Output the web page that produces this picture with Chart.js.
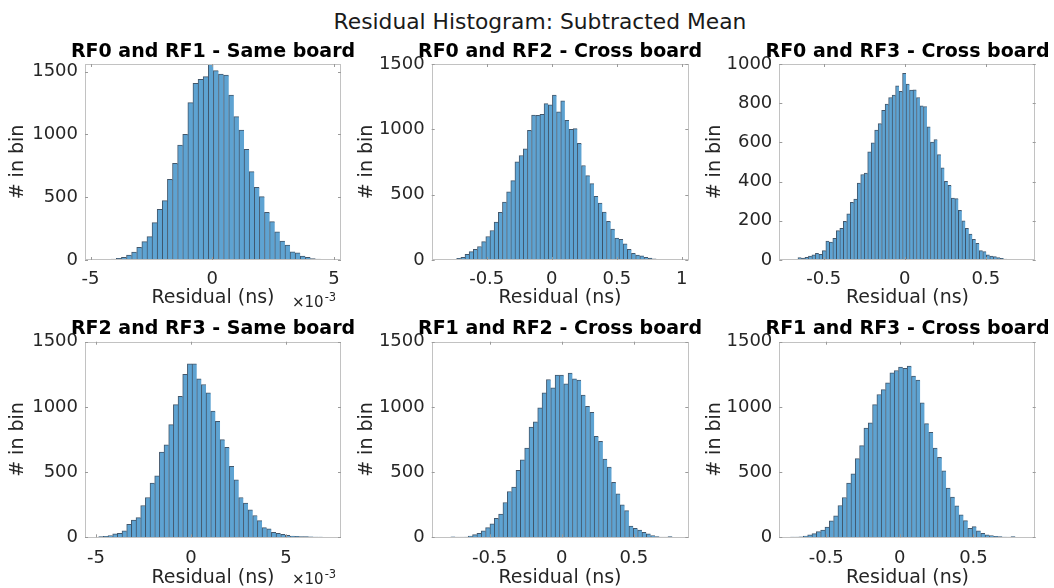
<!DOCTYPE html>
<html>
<head>
<meta charset="utf-8">
<title>Residual Histogram: Subtracted Mean</title>
<script src="https://cdn.jsdelivr.net/npm/chart.js@4.4.1/dist/chart.umd.min.js"></script>
<style>
    html, body { margin: 0; padding: 0; background: #fff; }
    #fig { position: relative; width: 1054px; height: 588px; overflow: hidden; background: #fff; }
    #suptitle {
        position: absolute; left: 0; width: 1080px; top: 10px;
        text-align: center; font: 21.8px "DejaVu Sans", sans-serif; line-height: 24px; color: #1a1a1a;
    }
    .panel { position: absolute; }
</style>
</head>
<body>
<div id="fig">
    <div id="suptitle">Residual Histogram: Subtracted Mean</div>
</div>
<script>
// ==========================================
// Residual histograms (6 pairs) — Chart.js
// ==========================================

// --- Dades ---
const titles = [
    'RF0 and RF1 - Same board', 'RF0 and RF2 - Cross board', 'RF0 and RF3 - Cross board',
    'RF2 and RF3 - Same board', 'RF1 and RF2 - Cross board', 'RF1 and RF3 - Cross board'
];

// left edge of the first bin and bin width (same-board plots in units of 1e-3 ns)
const binStart = [-4.574, -0.795, -0.702, -4.86, -0.7685, -0.744];
const binWidth = [0.21, 0.032, 0.0215, 0.2456, 0.0301, 0.0294];

const countsRF0RF1 = [5, 5, 8, 13, 21, 40, 64, 100, 146, 186, 297, 403, 472, 642, 769, 915, 1000, 1252, 1406, 1438,
    1459, 1560, 1507, 1480, 1472, 1313, 1141, 1034, 881, 703, 578, 504, 379, 305, 225, 151, 119, 66, 58, 32, 21, 11, 8];
const countsRF0RF2 = [5, 5, 13, 20, 44, 64, 82, 103, 141, 180, 226, 290, 364, 444, 521, 608, 751, 800, 851, 992,
    1110, 1108, 1115, 1197, 1187, 1262, 1133, 1218, 1069, 1000, 1005, 892, 723, 646, 585, 487, 436, 367, 295, 236,
    167, 159, 123, 82, 51, 38, 31, 20, 15, 8, 5];
const countsRF0RF3 = [2, 3, 12, 10, 14, 20, 26, 34, 29, 48, 96, 91, 111, 150, 162, 197, 236, 294, 311, 393,
    436, 444, 552, 598, 663, 696, 764, 795, 829, 841, 889, 860, 952, 897, 867, 868, 829, 786, 783, 680,
    602, 615, 538, 470, 402, 381, 316, 313, 253, 200, 162, 132, 106, 85, 48, 43, 26, 20, 17, 12, 9, 5, 3, 2];
const countsRF2RF3 = [5, 8, 13, 26, 31, 49, 100, 133, 151, 244, 305, 415, 472, 654, 710, 864, 1018, 1082, 1249, 1331,
    1331, 1215, 1172, 1108, 967, 890, 749, 690, 544, 441, 305, 262, 210, 167, 128, 74, 64, 38, 31, 23,
    15, 10, 8, 5, 5, 3, 2, 2];
const countsRF1RF2 = [3, 1, 1, 2, 10, 20, 31, 49, 74, 103, 146, 179, 267, 351, 385, 513, 595, 685, 846, 885,
    992, 1108, 1210, 1146, 1244, 1244, 1177, 1259, 1215, 1205, 1090, 1005, 959, 774, 736, 600, 538, 421, 333, 249,
    205, 87, 69, 56, 38, 26, 13, 5, 1, 1, 5];
const countsRF1RF3 = [2, 2, 3, 10, 18, 28, 44, 56, 79, 126, 164, 244, 305, 415, 487, 603, 703, 838, 877, 1018,
    1095, 1133, 1185, 1262, 1279, 1305, 1295, 1313, 1236, 1205, 1031, 872, 805, 685, 613, 510, 377, 308, 241, 172,
    128, 69, 82, 49, 31, 18, 13, 8, 5, 2, 1, 5];
const counts = [countsRF0RF1, countsRF0RF2, countsRF0RF3, countsRF2RF3, countsRF1RF2, countsRF1RF3];

// eixos
const xLimits = [[-5.23, 5.29], [-0.923, 1.05], [-0.774, 0.807], [-5.58, 7.89], [-0.901, 0.877], [-0.819, 0.923]];
const yMax = [1560, 1500, 1000, 1500, 1500, 1500];
const xTicks = [[-5, 0, 5], [-0.5, 0, 0.5, 1], [-0.5, 0, 0.5], [-5, 0, 5], [-0.5, 0, 0.5], [-0.5, 0, 0.5]];
const yTicks1500 = [0, 500, 1000, 1500];
const yTicks1000 = [0, 200, 400, 600, 800, 1000];
const yTicks = [yTicks1500, yTicks1500, yTicks1000, yTicks1500, yTicks1500, yTicks1500];
const xLabel = 'Residual (ns)';
const yLabel = '# in bin';
const hasExponent = [true, false, false, true, false, false];

// --- Layout (canvas rect + axis sizes, px) ---
const cols = [
    { left: 0,   width: 426, axisW: 85,   yTitlePad: 6.6 },
    { left: 350, width: 420, axisW: 81.7, yTitlePad: 5.3 },
    { left: 700, width: 415, axisW: 79.3, yTitlePad: 4.1 },
];
const rows = [
    { top: 36,  height: 273, titlePadTop: 4.2, xAxisH: 49, tickPad: 9 },
    { top: 314, height: 275, titlePadTop: 3.9, xAxisH: 51.7, tickPad: 10 },
];

const FONT = '"DejaVu Sans", sans-serif';
const TEXT = '#262626';
const FACE = 'rgb(94,163,210)';
const EDGE = 'rgba(20,45,70,0.8)';

// --- Caixa estil MATLAB: vora, ticks interiors, ×10^-3 ---
const matlabBox = {
    id: 'matlabBox',
    afterDatasetsDraw(chart, args, opts) {
        const { ctx, chartArea: a, scales: { x, y } } = chart;
        ctx.save();
        ctx.strokeStyle = '#c2c2c2';
        ctx.lineWidth = 1;
        ctx.strokeRect(Math.round(a.left) + 0.5, Math.round(a.top) + 0.5,
            Math.round(a.right - a.left) - 1, Math.round(a.bottom - a.top) - 1);

        ctx.strokeStyle = '#9a9a9a';
        ctx.beginPath();
        x.ticks.forEach(t => {
            const px = Math.round(x.getPixelForValue(t.value)) + 0.5;
            ctx.moveTo(px, a.bottom); ctx.lineTo(px, a.bottom - 3);
            ctx.moveTo(px, a.top); ctx.lineTo(px, a.top + 3);
        });
        y.ticks.forEach(t => {
            const py = Math.round(y.getPixelForValue(t.value)) + 0.5;
            ctx.moveTo(a.left, py); ctx.lineTo(a.left + 3, py);
            ctx.moveTo(a.right, py); ctx.lineTo(a.right - 3, py);
        });
        ctx.stroke();

        if (opts.exponent) {
            ctx.fillStyle = TEXT;
            ctx.textBaseline = 'alphabetic';
            ctx.textAlign = 'left';
            ctx.font = '15px ' + FONT;
            const x0 = a.right - 49;
            ctx.fillText('×10', x0, a.bottom + 47);
            const w = ctx.measureText('×10').width;
            ctx.font = '11.5px ' + FONT;
            ctx.fillText('-3', x0 + w + 1, a.bottom + 40.5);
        }
        ctx.restore();
    }
};

function makeChart(i) {
    const col = cols[i % 3];
    const row = rows[Math.floor(i / 3)];

    const holder = document.createElement('div');
    holder.className = 'panel';
    holder.style.left = col.left + 'px';
    holder.style.top = row.top + 'px';
    const canvas = document.createElement('canvas');
    canvas.width = col.width;
    canvas.height = row.height;
    holder.appendChild(canvas);
    document.getElementById('fig').appendChild(holder);

    const data = counts[i].map((c, k) => ({ x: binStart[i] + (k + 0.5) * binWidth[i], y: c }));

    return new Chart(canvas, {
        type: 'bar',
        data: {
            datasets: [{
                data,
                backgroundColor: FACE,
                borderColor: EDGE,
                borderWidth: { left: 1, top: 1, right: 0, bottom: 0 },
                barPercentage: 1,
                categoryPercentage: 1,
            }]
        },
        options: {
            responsive: false,
            animation: false,
            devicePixelRatio: 1,
            layout: { padding: 0 },
            plugins: {
                legend: { display: false },
                tooltip: { enabled: false },
                title: {
                    display: true, text: titles[i], color: '#000',
                    font: { family: FONT, size: 19, weight: 'bold' },
                    padding: { top: row.titlePadTop, bottom: 1 }
                },
                matlabBox: { exponent: hasExponent[i] }
            },
            scales: {
                x: {
                    type: 'linear', min: xLimits[i][0], max: xLimits[i][1], offset: false,
                    grid: { display: false, drawTicks: false }, border: { display: false },
                    afterBuildTicks: s => { s.ticks = xTicks[i].map(v => ({ value: v })); },
                    ticks: { padding: row.tickPad, color: TEXT, font: { family: FONT, size: 18 }, callback: v => String(v) },
                    title: { display: true, text: xLabel, color: TEXT, font: { family: FONT, size: 19 }, padding: 0 },
                    afterFit: s => { s.height = row.xAxisH; }
                },
                y: {
                    type: 'linear', min: 0, max: yMax[i],
                    grid: { display: false, drawTicks: false }, border: { display: false },
                    afterBuildTicks: s => { s.ticks = yTicks[i].map(v => ({ value: v })); },
                    ticks: { padding: 7, color: TEXT, font: { family: FONT, size: 18 }, callback: v => String(v) },
                    title: { display: true, text: yLabel, color: TEXT, font: { family: FONT, size: 19 }, padding: { top: col.yTitlePad, bottom: 0 } },
                    afterFit: s => { s.width = col.axisW; }
                },
                pad: {
                    type: 'linear', position: 'right', display: true,
                    ticks: { display: false }, grid: { display: false }, border: { display: false },
                    afterFit: s => { s.width = col.axisW; }
                }
            }
        },
        plugins: [matlabBox]
    });
}

// --- Inicialització ---
const charts = titles.map((t, i) => makeChart(i));
</script>
</body>
</html>
